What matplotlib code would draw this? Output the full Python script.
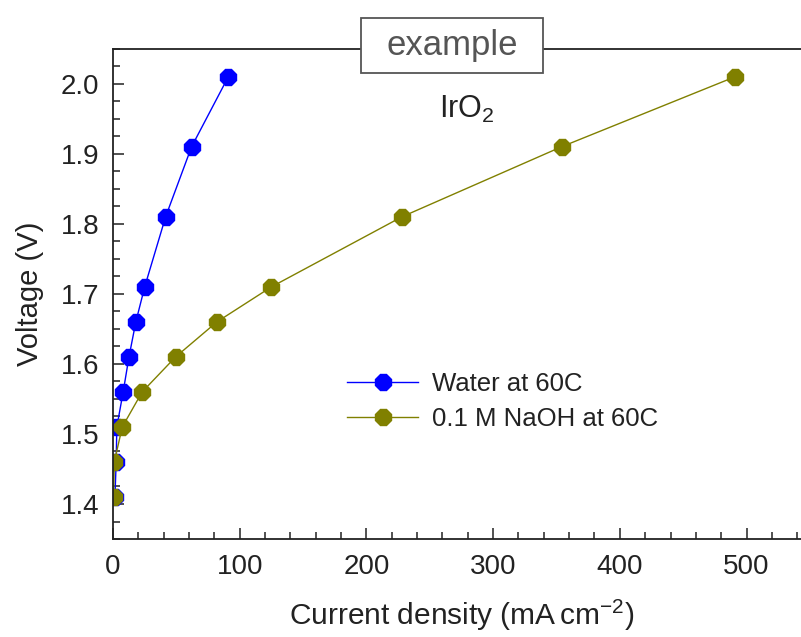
import numpy as np
import matplotlib.pyplot as plt
from matplotlib.patches import Rectangle
from matplotlib.ticker import MultipleLocator

# polarisation data, IrO2 anode
voltage = [1.41, 1.46, 1.51, 1.56, 1.61, 1.66, 1.71, 1.81, 1.91, 2.01]
j_water = [1.5, 2.5, 3, 8, 12.6, 18, 25, 41.5, 62, 91]
j_naoh = [0.5, 1, 7.3, 23, 49.4, 82, 125, 228, 354, 491]

labels = ['Water at 60C', '0.1 M NaOH at 60C']

plt.rcParams['font.family'] = ['Liberation Sans', 'DejaVu Sans']

fig = plt.figure(figsize=(8.01, 6.37), dpi=100)
ax = fig.add_axes([0.1411, 0.1538, 0.870, 0.7697])

ax.plot(j_water, voltage, color='#0000ff', lw=1.0, marker='8', ms=12.5,
        label=labels[0])
ax.plot(j_naoh, voltage, color='#808000', lw=1.0, marker='8', ms=13,
        label=labels[1])

ax.set_xlim(0, 550)
ax.set_ylim(1.35, 2.05)
ax.xaxis.set_major_locator(MultipleLocator(100))
ax.xaxis.set_minor_locator(MultipleLocator(20))
ax.yaxis.set_major_locator(MultipleLocator(0.1))
ax.yaxis.set_minor_locator(MultipleLocator(0.025))
ax.tick_params(which='both', direction='in', top=False, right=False,
               colors='#222222', width=1.1)
ax.tick_params(which='major', length=8)
ax.tick_params(which='minor', length=5)
ax.tick_params(axis='y', labelsize=20, pad=10)
ax.tick_params(axis='x', labelsize=20, pad=11)
ax.yaxis.set_major_formatter(plt.FormatStrFormatter('%.1f'))

for s in ax.spines.values():
    s.set_linewidth(1.3)
    s.set_color('#222222')

ax.set_ylabel('Voltage (V)', fontsize=21, labelpad=12, color='#222222')
ax.set_xlabel(r'Current density (mA$\,$cm$^{\mathregular{-2}}$)', fontsize=21.5,
              labelpad=12, color='#222222')

ax.text(0.507, 0.877, r'IrO$_\mathregular{2}$', transform=ax.transAxes,
        fontsize=22, ha='center', va='center', color='#222222')

ax.legend(loc='center left', bbox_to_anchor=(0.303, 0.2804), frameon=False,
          fontsize=18.5, handlelength=2.75, handletextpad=0.55,
          labelspacing=0.45, labelcolor='#222222')

# title box sitting on the top frame
fig.patches.append(Rectangle((0.4507, 0.8854), 0.2272, 0.0863,
                             transform=fig.transFigure, fc='white',
                             ec='#555555', lw=1.3, zorder=5))
fig.text(0.5643, 0.9286, 'example', fontsize=25, color='#555555',
         ha='center', va='center', zorder=6)

fig.savefig('out.png', dpi=100)
